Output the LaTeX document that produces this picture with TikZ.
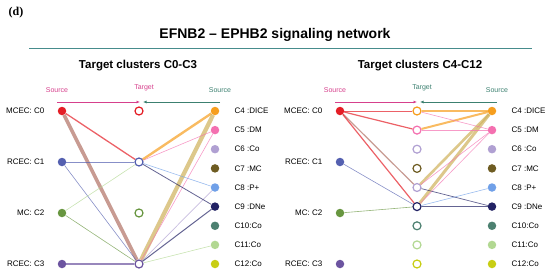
\documentclass[tikz,border=0pt]{standalone}
\usepackage{fontspec}
\setmainfont{Liberation Serif}
\setsansfont{Liberation Sans}
\usetikzlibrary{arrows.meta, positioning}

\definecolor{cC0}{RGB}{228,30,38}
\definecolor{cC1}{RGB}{84,96,176}
\definecolor{cC2}{RGB}{104,150,64}
\definecolor{cC3}{RGB}{108,84,160}
\definecolor{cC4}{RGB}{246,158,30}
\definecolor{cC5}{RGB}{244,112,176}
\definecolor{cC6}{RGB}{176,160,210}
\definecolor{cC7}{RGB}{110,92,34}
\definecolor{cC8}{RGB}{112,160,232}
\definecolor{cC9}{RGB}{34,34,100}
\definecolor{cC10}{RGB}{76,128,112}
\definecolor{cC11}{RGB}{178,216,146}
\definecolor{cC12}{RGB}{200,206,20}
\definecolor{khaki}{RGB}{206,176,90}
\definecolor{mud}{RGB}{176,112,100}
\definecolor{srcpink}{RGB}{214,64,140}
\definecolor{srcteal}{RGB}{60,128,112}
\definecolor{rule}{RGB}{70,140,140}

\begin{document}
\begin{tikzpicture}[
  x=1pt, y=-1pt,
  font=\sffamily,
  src/.style  = {circle, fill=#1, inner sep=0pt, minimum size=8.5pt},
  tgt/.style  = {circle, draw=#1, line width=1.2pt, fill=white, inner sep=0pt, minimum size=8pt},
  lab/.style  = {font=\sffamily\fontsize{8}{9}\selectfont, inner sep=0pt},
  hdr/.style  = {font=\sffamily\fontsize{7}{8}\selectfont, inner sep=0pt},
  wire/.style = {draw=#1, opacity=.7},
]
  \useasboundingbox (0,0) rectangle (550,276);

  \node[font=\rmfamily\bfseries\fontsize{12}{13}\selectfont, inner sep=0pt] (tag) at (16,13) {(d)};
  \node[font=\sffamily\bfseries\fontsize{14}{16}\selectfont, inner sep=0pt] (title) at (275,35)
    {EFNB2 -- EPHB2 signaling network};
  \coordinate (ruleL) at (29,48);
  \coordinate (ruleR) at (532,48);
  \draw[rule, line width=0.8pt] (ruleL) -- (ruleR);

  %%% left panel: targets C0-C3
  \node[font=\sffamily\bfseries\fontsize{11.5}{13}\selectfont, inner sep=0pt] (headA) at (138,66)
    {Target clusters C0-C3};

  \node[hdr, text=srcpink] (srcA)  at (57,90)  {Source};
  \node[hdr, text=srcpink] (tgtA)  at (144,88) {Target};
  \node[hdr, text=srcteal] (srcA2) at (220,90) {Source};
  \coordinate (arAL) at (57,102);
  \coordinate (arAM) at (140,102);
  \coordinate (arAN) at (143,102);
  \coordinate (arAR) at (220,102);
  \draw[-{Latex[length=3.5pt,width=3pt]}, srcpink, line width=0.7pt] (arAL) -- (arAM);
  \draw[-{Latex[length=3.5pt,width=3pt]}, srcteal, line width=0.7pt] (arAR) -- (arAN);

  % sources on the left
  \node[src=cC0] (aS0) at (62,111) {};
  \node[src=cC1] (aS1) at (62,162) {};
  \node[src=cC2] (aS2) at (62,213) {};
  \node[src=cC3] (aS3) at (62,264) {};
  \node[lab, left=13pt of aS0] {MCEC: C0};
  \node[lab, left=13pt of aS1] {RCEC: C1};
  \node[lab, left=13pt of aS2] {MC: C2};
  \node[lab, left=13pt of aS3] {RCEC: C3};

  % targets
  \node[tgt=cC0] (aT0) at (139,111) {};
  \node[tgt=cC1] (aT1) at (139,162) {};
  \node[tgt=cC2] (aT2) at (139,213) {};
  \node[tgt=cC3] (aT3) at (139,264) {};

  % sources on the right
  \node[src=cC4]  (aR4)  at (215,111)   {};
  \node[src=cC5]  (aR5)  at (215,130.1) {};
  \node[src=cC6]  (aR6)  at (215,149.2) {};
  \node[src=cC7]  (aR7)  at (215,168.4) {};
  \node[src=cC8]  (aR8)  at (215,187.5) {};
  \node[src=cC9]  (aR9)  at (215,206.6) {};
  \node[src=cC10] (aR10) at (215,225.8) {};
  \node[src=cC11] (aR11) at (215,244.9) {};
  \node[src=cC12] (aR12) at (215,264)   {};
  \node[lab, right=15pt of aR4]  {C4 :DICE};
  \node[lab, right=15pt of aR5]  {C5 :DM};
  \node[lab, right=15pt of aR6]  {C6 :Co};
  \node[lab, right=15pt of aR7]  {C7 :MC};
  \node[lab, right=15pt of aR8]  {C8 :P+};
  \node[lab, right=15pt of aR9]  {C9 :DNe};
  \node[lab, right=15pt of aR10] {C10:Co};
  \node[lab, right=15pt of aR11] {C11:Co};
  \node[lab, right=15pt of aR12] {C12:Co};

  % links into C0-C3
  \draw[wire=mud,   line width=3.6pt] (aS0) -- (aT3);
  \draw[wire=cC0,   line width=1.3pt] (aS0) -- (aT1);
  \draw[wire=cC1,   line width=0.6pt] (aS1) -- (aT1);
  \draw[wire=cC1,   line width=0.6pt] (aS1) -- (aT3);
  \draw[wire=cC11,  line width=0.6pt] (aS2) -- (aT1);
  \draw[wire=cC2,   line width=0.6pt] (aS2) -- (aT3);
  \draw[wire=cC3,   line width=1.8pt] (aS3) -- (aT3);
  \draw[wire=cC4,   line width=2.4pt] (aR4) -- (aT1);
  \draw[wire=khaki, line width=4.2pt] (aR4) -- (aT3);
  \draw[wire=cC5,   line width=0.6pt] (aR5) -- (aT1);
  \draw[wire=cC5,   line width=0.6pt] (aR5) -- (aT3);
  \draw[wire=cC8,   line width=0.6pt] (aR8) -- (aT1);
  \draw[wire=cC6,   line width=0.7pt] (aR8) -- (aT3);
  \draw[wire=cC9,   line width=0.8pt] (aR9) -- (aT1);
  \draw[wire=cC9,   line width=1.0pt] (aR9) -- (aT3);
  \draw[wire=cC11,  line width=0.6pt] (aR11) -- (aT3);

  %%% right panel: targets C4-C12
  \node[font=\sffamily\bfseries\fontsize{11.5}{13}\selectfont, inner sep=0pt] (headB) at (420,66)
    {Target clusters C4-C12};

  \node[hdr, text=srcpink] (srcB)  at (335,90) {Source};
  \node[hdr, text=srcteal] (tgtB)  at (422,88) {Target};
  \node[hdr, text=srcteal] (srcB2) at (497,90) {Source};
  \coordinate (arBL) at (335,102);
  \coordinate (arBM) at (417,102);
  \coordinate (arBN) at (420,102);
  \coordinate (arBR) at (497,102);
  \draw[-{Latex[length=3.5pt,width=3pt]}, srcpink, line width=0.7pt] (arBL) -- (arBM);
  \draw[-{Latex[length=3.5pt,width=3pt]}, srcteal, line width=0.7pt] (arBR) -- (arBN);

  % sources on the left
  \node[src=cC0] (bS0) at (340,111) {};
  \node[src=cC1] (bS1) at (340,162) {};
  \node[src=cC2] (bS2) at (340,213) {};
  \node[src=cC3] (bS3) at (340,264) {};
  \node[lab, left=13pt of bS0] {MCEC: C0};
  \node[lab, left=13pt of bS1] {RCEC: C1};
  \node[lab, left=13pt of bS2] {MC: C2};
  \node[lab, left=13pt of bS3] {RCEC: C3};

  % targets
  \node[tgt=cC4]  (bT4)  at (417,111)   {};
  \node[tgt=cC5]  (bT5)  at (417,130.1) {};
  \node[tgt=cC6]  (bT6)  at (417,149.2) {};
  \node[tgt=cC7]  (bT7)  at (417,168.4) {};
  \node[tgt=cC6]  (bT8)  at (417,187.5) {};
  \node[tgt=cC9]  (bT9)  at (417,206.6) {};
  \node[tgt=cC10] (bT10) at (417,225.8) {};
  \node[tgt=cC11] (bT11) at (417,244.9) {};
  \node[tgt=cC12] (bT12) at (417,264)   {};

  % sources on the right
  \node[src=cC4]  (bR4)  at (492,111)   {};
  \node[src=cC5]  (bR5)  at (492,130.1) {};
  \node[src=cC6]  (bR6)  at (492,149.2) {};
  \node[src=cC7]  (bR7)  at (492,168.4) {};
  \node[src=cC8]  (bR8)  at (492,187.5) {};
  \node[src=cC9]  (bR9)  at (492,206.6) {};
  \node[src=cC10] (bR10) at (492,225.8) {};
  \node[src=cC11] (bR11) at (492,244.9) {};
  \node[src=cC12] (bR12) at (492,264)   {};
  \node[lab, right=15pt of bR4]  {C4 :DICE};
  \node[lab, right=15pt of bR5]  {C5 :DM};
  \node[lab, right=15pt of bR6]  {C6 :Co};
  \node[lab, right=15pt of bR7]  {C7 :MC};
  \node[lab, right=15pt of bR8]  {C8 :P+};
  \node[lab, right=15pt of bR9]  {C9 :DNe};
  \node[lab, right=15pt of bR10] {C10:Co};
  \node[lab, right=15pt of bR11] {C11:Co};
  \node[lab, right=15pt of bR12] {C12:Co};

  % links into C4-C12
  \draw[wire=cC0,   line width=1.0pt] (bS0) -- (bT4);
  \draw[wire=cC0,   line width=1.2pt] (bS0) -- (bT5);
  \draw[wire=mud,   line width=1.2pt] (bS0) -- (bT8);
  \draw[wire=cC0,   line width=1.2pt] (bS0) -- (bT9);
  \draw[wire=cC1,   line width=0.6pt] (bS1) -- (bT9);
  \draw[wire=cC2,   line width=0.6pt] (bS2) -- (bT9);
  \draw[wire=cC4,   line width=1.2pt] (bR4) -- (bT4);
  \draw[wire=cC4,   line width=2.0pt] (bR4) -- (bT5);
  \draw[wire=khaki, line width=2.6pt] (bR4) -- (bT8);
  \draw[wire=khaki, line width=3.0pt] (bR4) -- (bT9);
  \draw[wire=cC5,   line width=0.6pt] (bR5) -- (bT4);
  \draw[wire=cC5,   line width=0.8pt] (bR5) -- (bT5);
  \draw[wire=cC5,   line width=0.6pt] (bR5) -- (bT8);
  \draw[wire=cC5,   line width=0.6pt] (bR5) -- (bT9);
  \draw[wire=cC8,   line width=0.6pt] (bR8) -- (bT9);
  \draw[wire=cC9,   line width=0.7pt] (bR9) -- (bT8);
  \draw[wire=cC9,   line width=0.7pt] (bR9) -- (bT9);
\end{tikzpicture}
\end{document}
